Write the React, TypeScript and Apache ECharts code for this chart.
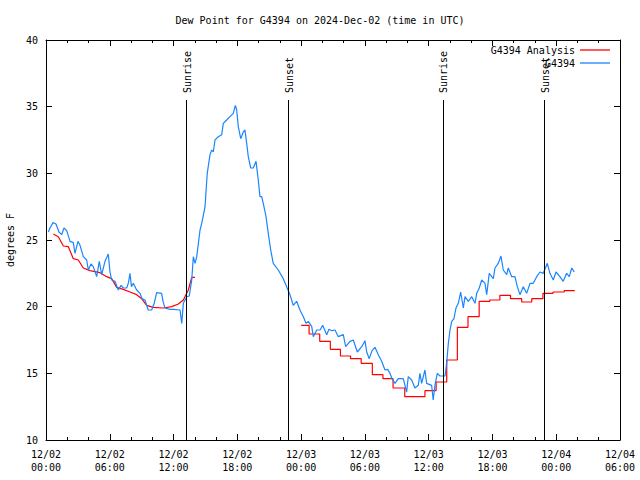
import React, { useEffect, useRef } from "react";
import * as echarts from "echarts";

// hours since 2024-12-02 00:00 UTC
const blueT = [0.22,0.38,0.66,0.94,1.22,1.48,1.69,1.95,2.26,2.57,2.73,3.01,3.2,3.51,3.83,3.98,4.23,4.45,4.77,5.01,5.24,5.55,5.86,6.02,6.18,6.49,6.8,7.06,7.27,7.59,7.76,7.9,8.04,8.21,8.53,8.84,9.03,9.31,9.62,9.94,10.16,10.41,10.88,11.01,11.19,11.67,11.98,12.61,12.77,12.92,13.24,13.48,13.71,13.86,14.02,14.18,14.49,14.65,14.96,15.17,15.43,15.59,15.74,15.9,16.21,16.53,16.68,17.0,17.31,17.62,17.81,17.94,18.09,18.32,18.56,18.72,18.88,19.03,19.26,19.5,19.76,19.97,20.13,20.29,20.44,20.7,20.91,21.14,21.38,21.85,22.32,22.64,22.95,23.11,23.26,23.58,23.89,24.21,24.46,24.68,25.0,25.15,25.47,25.78,26.03,26.41,26.62,26.88,27.19,27.5,27.97,28.19,28.6,28.91,29.29,29.7,30.01,30.17,30.41,30.67,30.95,31.26,31.58,31.89,32.14,32.36,32.55,32.83,33.14,33.61,33.93,34.08,34.4,34.71,35.02,35.18,35.34,35.65,35.81,36.28,36.43,36.59,36.81,37.07,37.54,37.69,37.85,38.01,38.17,38.38,38.57,38.79,39.01,39.26,39.42,39.73,40.05,40.36,40.52,40.76,40.99,41.3,41.46,41.7,42.08,42.24,42.55,42.8,43.02,43.34,43.49,43.81,44.12,44.34,44.59,44.9,45.22,45.53,45.84,46.16,46.47,46.78,47.16,47.41,47.72,47.98,48.35,48.66,48.98,49.23,49.46,49.7];
const blueV = [25.6,25.9,26.3,26.2,25.6,25.4,25.9,25.7,24.9,24.8,24.0,24.9,24.6,23.75,23.5,22.75,23.2,23.0,22.25,23.4,22.4,23.4,23.95,22.6,22.0,21.9,21.25,21.6,21.4,21.4,21.8,22.5,21.5,21.75,21.25,21.0,20.6,20.5,19.75,19.75,20.2,21.05,21.0,20.4,19.9,19.8,19.8,19.75,18.75,20.25,20.75,20.8,22.0,23.75,23.25,23.75,25.75,26.25,27.5,30.0,31.4,31.75,31.6,32.5,32.75,32.9,33.75,34.0,34.25,34.5,35.1,34.75,33.5,32.6,33.1,33.25,32.25,31.25,30.4,30.4,30.9,29.5,28.25,28.25,27.75,26.75,25.5,24.25,23.25,22.75,22.1,21.5,20.9,20.5,20.1,20.4,19.75,19.25,18.75,18.9,18.5,17.75,18.25,18.25,18.6,17.9,18.3,18.2,18.25,17.75,17.9,17.0,17.4,17.5,16.6,17.0,17.45,16.6,16.1,16.7,16.95,16.4,15.9,15.25,15.3,15.0,14.6,14.25,14.6,14.6,13.6,14.75,14.5,13.9,14.1,15.0,14.25,15.25,14.25,14.1,13.0,14.1,15.0,14.8,14.8,15.75,17.25,18.25,18.9,19.1,19.9,20.25,21.1,19.9,20.75,20.4,20.75,20.25,21.0,21.4,22.0,21.75,20.9,22.5,22.1,22.9,23.25,23.8,22.75,22.4,22.9,22.25,22.25,21.5,20.9,21.5,21.0,21.75,21.75,22.25,22.6,22.5,23.25,22.5,22.0,22.6,22.25,21.9,22.5,22.25,22.9,22.6];

const redT1 = [0.69,1.16,1.63,2.1,2.57,3.04,3.51,4.14,5.08,5.71,6.18,6.65,7.27,7.9,8.53,9.0,9.47,10.09,11.03,11.83,12.45,12.92,13.39,13.71,14.02];
const redV1 = [25.45,25.25,24.55,24.5,23.6,23.5,22.9,22.7,22.55,22.25,22.1,21.45,21.3,21.1,20.9,20.6,20.1,19.95,19.9,20.0,20.2,20.5,21.25,22.2,22.2];

const redT2 = [24.0,24.75,25.75,26.75,27.7,28.65,29.65,30.7,31.7,32.65,33.75,35.65,36.7,37.7,38.7,39.7,40.75,41.75,42.7,43.7,44.75,45.7,46.75,47.7,48.75,49.75];
const redV2 = [18.6,17.95,17.4,16.8,16.3,16.1,15.75,14.9,14.6,13.9,13.25,13.7,14.35,16.0,18.45,19.25,20.4,20.5,20.85,20.6,20.35,20.6,21.0,21.1,21.2,21.2];

const sunTimes = [13.22, 22.8, 37.33, 46.92];
const sunLabels = ["Sunrise", "Sunset", "Sunrise", "Sunset"];

const xTickLabels = [
  "12/02\n00:00", "12/02\n06:00", "12/02\n12:00", "12/02\n18:00",
  "12/03\n00:00", "12/03\n06:00", "12/03\n12:00", "12/03\n18:00",
  "12/04\n00:00", "12/04\n06:00",
];

const FONT = "DejaVu Sans Mono";
const RED = "#ff0000";
const BLUE = "#1a85ff";

export default function App() {
  const ref = useRef<HTMLDivElement>(null);
  useEffect(() => {
    if (!ref.current) return;
    const chart = echarts.init(ref.current, null, { renderer: "svg" });
    const zip = (t: number[], v: number[]) => t.map((x, i) => [x, v[i]]);
    const xAxisBase = {
      type: "value" as const,
      min: 0,
      max: 54,
      interval: 6,
      splitLine: { show: false },
      axisLine: { show: true, onZero: false, lineStyle: { color: "#000", width: 1 } },
      axisTick: { show: true, inside: true, length: 6, lineStyle: { color: "#000" } },
      minorTick: { show: true, splitNumber: 3, length: 3, lineStyle: { color: "#000" } },
    };
    const yAxisBase = {
      type: "value" as const,
      min: 10,
      max: 40,
      interval: 5,
      splitLine: { show: false },
      axisLine: { show: true, onZero: false, lineStyle: { color: "#000", width: 1 } },
      axisTick: { show: true, inside: true, length: 6, lineStyle: { color: "#000" } },
    };
    const option: any = {
      animation: false,
      backgroundColor: "#fff",
      textStyle: { fontFamily: FONT, fontSize: 10, color: "#000" },
      title: {
        text: "Dew Point for G4394 on 2024-Dec-02 (time in UTC)",
        left: "center",
        top: 10,
        textStyle: { fontFamily: FONT, fontSize: 10, fontWeight: "normal", color: "#000" },
      },
      legend: {
        data: [
          { name: "G4394 Analysis", icon: "rect", itemStyle: { color: RED } },
          { name: "G4394", icon: "rect", itemStyle: { color: BLUE } },
        ],
        orient: "vertical",
        align: "right",
        right: 25,
        top: 39,
        itemWidth: 30,
        itemHeight: 1.3,
        itemGap: 1,
        textStyle: { fontFamily: FONT, fontSize: 10, color: "#000", lineHeight: 12 },
      },
      grid: { left: 46, right: 20, top: 40, bottom: 40, containLabel: false, outerBoundsMode: "none" },
      xAxis: [
        {
          ...xAxisBase,
          position: "bottom",
          axisLabel: {
            color: "#000",
            fontFamily: FONT,
            fontSize: 10,
            lineHeight: 13,
            margin: 8,
            formatter: (v: number) => xTickLabels[Math.round(v / 6)] ?? "",
          },
        },
        { ...xAxisBase, position: "top", axisLabel: { show: false } },
      ],
      yAxis: [
        {
          ...yAxisBase,
          position: "left",
          name: "degrees F",
          nameLocation: "middle",
          nameRotate: 90,
          nameGap: 30,
          nameTextStyle: { fontFamily: FONT, fontSize: 10, color: "#000" },
          axisLabel: { color: "#000", fontFamily: FONT, fontSize: 10, margin: 8 },
        },
        { ...yAxisBase, position: "right", axisLabel: { show: false } },
      ],
      series: [
        {
          name: "G4394 Analysis",
          type: "line",
          data: zip(redT1, redV1),
          symbol: "none",
          color: RED,
          lineStyle: { width: 1.2, color: RED },
          silent: true,
        },
        {
          name: "G4394 Analysis",
          type: "line",
          step: "end",
          data: zip(redT2, redV2),
          symbol: "none",
          color: RED,
          lineStyle: { width: 1.2, color: RED },
          silent: true,
        },
        {
          name: "G4394",
          type: "line",
          data: zip(blueT, blueV),
          symbol: "none",
          color: BLUE,
          lineStyle: { width: 1.2, color: BLUE },
          silent: true,
          markLine: {
            silent: true,
            symbol: ["none", "none"],
            label: { show: false },
            lineStyle: { color: "#000", width: 1, type: "solid" },
            emphasis: { disabled: true },
            data: sunTimes.map((t) => [{ coord: [t, 10] }, { coord: [t, 35.5] }]),
          },
        },
      ],
    };
    chart.setOption(option);
    const graphics = sunTimes.map((t, i) => {
      const p = chart.convertToPixel({ xAxisIndex: 0, yAxisIndex: 0 }, [t, 35.5]) as number[];
      return {
        type: "text",
        x: p[0] + 1,
        y: p[1] - 7,
        rotation: Math.PI / 2,
        z: 10,
        style: {
          text: sunLabels[i],
          fontFamily: FONT,
          fontSize: 10,
          fill: "#000",
          align: "left",
          verticalAlign: "middle",
        },
      };
    });
    chart.setOption({ graphic: graphics });
    return () => chart.dispose();
  }, []);
  return (
    <div
      ref={ref}
      style={{ position: "fixed", left: 0, top: 0, width: 640, height: 480, background: "#fff" }}
    />
  );
}
